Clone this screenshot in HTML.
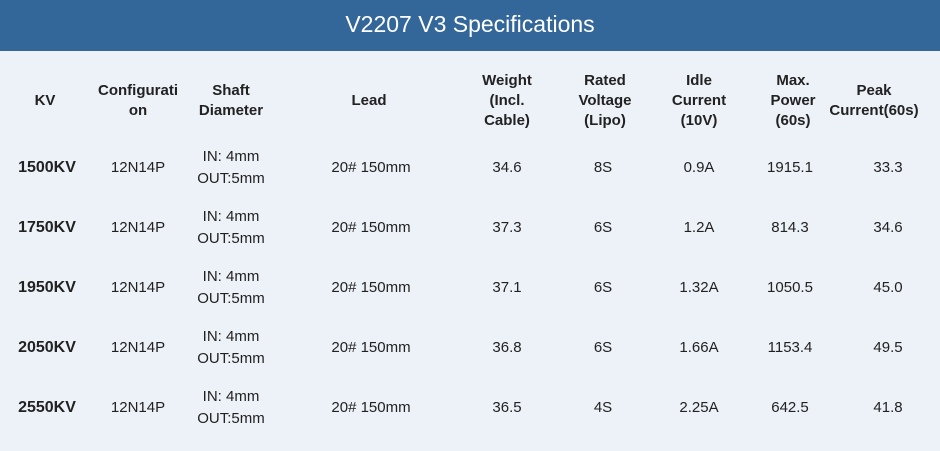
<!DOCTYPE html>
<html><head><style>
body{margin:0;width:940px;height:451px;background:#edf1f8;font-family:"Liberation Sans",sans-serif;position:relative;overflow:hidden;color:#222}
.hd{position:absolute;left:0;top:0;width:940px;height:51px;background:#336699;color:#fff;font-size:23px;text-align:center;line-height:49px}
.t{position:absolute;transform:translate(-50%,-50%);white-space:nowrap;text-align:center;font-size:15px;line-height:20px}
.s{line-height:22px}
.b{font-weight:bold}
.k{font-weight:bold;font-size:16px}
</style></head><body>
<div class="hd">V2207 V3 Specifications</div>
<div class="t b" style="left:45px;top:101px">KV</div>
<div class="t b" style="left:138px;top:101px">Configurati<br>on</div>
<div class="t b" style="left:231px;top:101px">Shaft<br>Diameter</div>
<div class="t b" style="left:369px;top:101px">Lead</div>
<div class="t b" style="left:507px;top:101px">Weight<br>(Incl.<br>Cable)</div>
<div class="t b" style="left:605px;top:101px">Rated<br>Voltage<br>(Lipo)</div>
<div class="t b" style="left:699px;top:101px">Idle<br>Current<br>(10V)</div>
<div class="t b" style="left:793px;top:101px">Max.<br>Power<br>(60s)</div>
<div class="t b" style="left:874px;top:101px">Peak<br>Current(60s)</div>

<div class="t k" style="left:47px;top:168px">1500KV</div><div class="t" style="left:138px;top:168px">12N14P</div><div class="t s" style="left:231px;top:168px">IN: 4mm<br>OUT:5mm</div><div class="t" style="left:371px;top:168px">20# 150mm</div><div class="t" style="left:507px;top:168px">34.6</div><div class="t" style="left:603px;top:168px">8S</div><div class="t" style="left:699px;top:168px">0.9A</div><div class="t" style="left:790px;top:168px">1915.1</div><div class="t" style="left:888px;top:168px">33.3</div>

<div class="t k" style="left:47px;top:228px">1750KV</div><div class="t" style="left:138px;top:228px">12N14P</div><div class="t s" style="left:231px;top:228px">IN: 4mm<br>OUT:5mm</div><div class="t" style="left:371px;top:228px">20# 150mm</div><div class="t" style="left:507px;top:228px">37.3</div><div class="t" style="left:603px;top:228px">6S</div><div class="t" style="left:699px;top:228px">1.2A</div><div class="t" style="left:790px;top:228px">814.3</div><div class="t" style="left:888px;top:228px">34.6</div>

<div class="t k" style="left:47px;top:288px">1950KV</div><div class="t" style="left:138px;top:288px">12N14P</div><div class="t s" style="left:231px;top:288px">IN: 4mm<br>OUT:5mm</div><div class="t" style="left:371px;top:288px">20# 150mm</div><div class="t" style="left:507px;top:288px">37.1</div><div class="t" style="left:603px;top:288px">6S</div><div class="t" style="left:699px;top:288px">1.32A</div><div class="t" style="left:790px;top:288px">1050.5</div><div class="t" style="left:888px;top:288px">45.0</div>

<div class="t k" style="left:47px;top:348px">2050KV</div><div class="t" style="left:138px;top:348px">12N14P</div><div class="t s" style="left:231px;top:348px">IN: 4mm<br>OUT:5mm</div><div class="t" style="left:371px;top:348px">20# 150mm</div><div class="t" style="left:507px;top:348px">36.8</div><div class="t" style="left:603px;top:348px">6S</div><div class="t" style="left:699px;top:348px">1.66A</div><div class="t" style="left:790px;top:348px">1153.4</div><div class="t" style="left:888px;top:348px">49.5</div>

<div class="t k" style="left:47px;top:408px">2550KV</div><div class="t" style="left:138px;top:408px">12N14P</div><div class="t s" style="left:231px;top:408px">IN: 4mm<br>OUT:5mm</div><div class="t" style="left:371px;top:408px">20# 150mm</div><div class="t" style="left:507px;top:408px">36.5</div><div class="t" style="left:603px;top:408px">4S</div><div class="t" style="left:699px;top:408px">2.25A</div><div class="t" style="left:790px;top:408px">642.5</div><div class="t" style="left:888px;top:408px">41.8</div>
</body></html>
